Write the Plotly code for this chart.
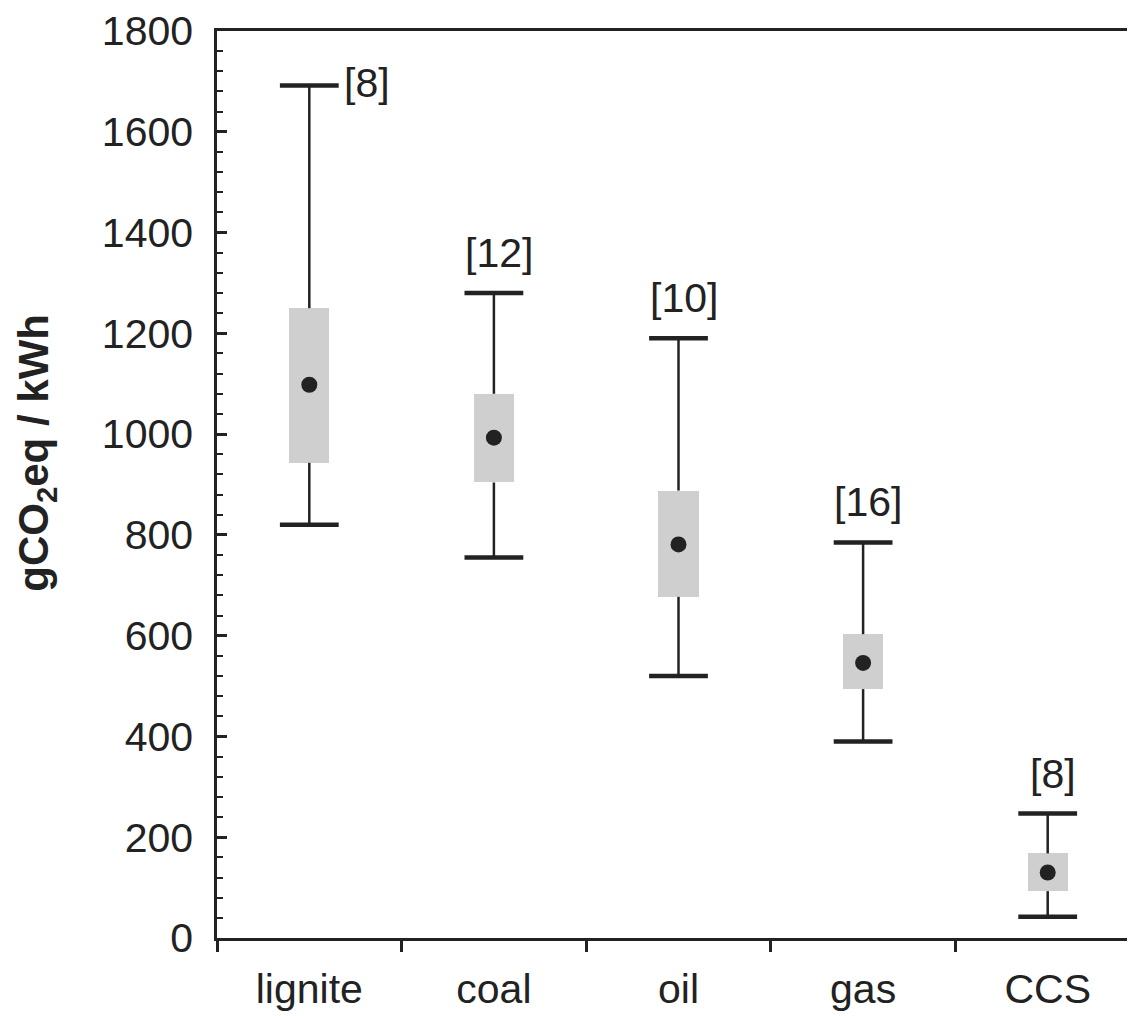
import plotly.graph_objects as go

categories = ["lignite", "coal", "oil", "gas", "CCS"]
whisker_min = [820, 755, 520, 390, 42]
box_low = [943, 904, 677, 494, 93]
median = [1098, 993, 781, 546, 130]
box_high = [1250, 1080, 888, 603, 168]
whisker_max = [1692, 1280, 1190, 785, 247]
n_labels = ["[8]", "[12]", "[10]", "[16]", "[8]"]

INK = "#222222"
BOX = "#cfcfcf"
FONT = "Liberation Sans, Arial, sans-serif"

fig = go.Figure()

# boxes
fig.add_trace(go.Bar(
    x=categories,
    y=[h - l for h, l in zip(box_high, box_low)],
    base=box_low,
    width=0.217,
    marker=dict(color=BOX, line=dict(width=0)),
    showlegend=False, hoverinfo="skip",
))

# whisker stems
sx, sy = [], []
for c, lo, bl, bh, hi in zip(categories, whisker_min, box_low, box_high, whisker_max):
    sx += [c, c, None, c, c, None]
    sy += [bh, hi, None, bl, lo, None]
fig.add_trace(go.Scatter(
    x=sx, y=sy, mode="lines",
    line=dict(color=INK, width=2.5),
    showlegend=False, hoverinfo="skip",
))

# caps
fig.add_trace(go.Scatter(
    x=categories + categories,
    y=whisker_max + whisker_min,
    mode="markers",
    marker=dict(symbol="line-ew", size=42, line=dict(color=INK, width=4.5)),
    showlegend=False, hoverinfo="skip",
))

# medians
fig.add_trace(go.Scatter(
    x=categories, y=median, mode="markers",
    marker=dict(symbol="circle", size=16, color=INK),
    showlegend=False,
))

annotations = []
for i, (c, hi, t) in enumerate(zip(categories, whisker_max, n_labels)):
    if i == 0:
        annotations.append(dict(x=c, y=hi, xref="x", yref="y", text=t, showarrow=False,
                                xanchor="center", yanchor="middle", xshift=58, yshift=2,
                                font=dict(size=41, color=INK, family=FONT)))
    else:
        annotations.append(dict(x=c, y=hi, xref="x", yref="y", text=t, showarrow=False,
                                xanchor="center", yanchor="middle", xshift=5, yshift=40,
                                font=dict(size=41, color=INK, family=FONT)))

annotations.append(dict(
    x=0, xref="paper", xshift=-180, y=963, yref="y",
    text="<b>gCO<sub>2</sub>eq / kWh</b>", textangle=-90, showarrow=False,
    xanchor="center", yanchor="middle",
    font=dict(size=42, color=INK, family=FONT),
))

fig.update_layout(
    width=1132, height=1008,
    margin=dict(l=209, r=0, t=20, b=78),
    paper_bgcolor="white", plot_bgcolor="white",
    font=dict(family=FONT, size=41, color=INK),
    annotations=annotations,
    bargap=0,
)

fig.update_xaxes(
    type="category",
    range=[-0.5, 4.5],
    tickson="boundaries",
    ticks="outside", ticklen=11, tickwidth=2.5, tickcolor=INK,
    showline=True, linewidth=2.5, linecolor=INK, mirror=True,
    showgrid=False, zeroline=False,
    ticklabelstandoff=13,
    ticklabeloverflow="allow",
    tickfont=dict(size=41, color=INK, family=FONT),
)

fig.update_yaxes(
    range=[0, 1800],
    tickmode="linear", tick0=0, dtick=200,
    ticks="inside", ticklen=10, tickwidth=2.5, tickcolor=INK,
    minor=dict(tick0=0, dtick=40, ticks="inside", ticklen=6, tickwidth=2, tickcolor=INK),
    showline=True, linewidth=2.5, linecolor=INK,
    showgrid=False, zeroline=False,
    ticklabelstandoff=13,
    ticklabeloverflow="allow",
    tickfont=dict(size=41, color=INK, family=FONT),
)

fig.write_html("out.html")
